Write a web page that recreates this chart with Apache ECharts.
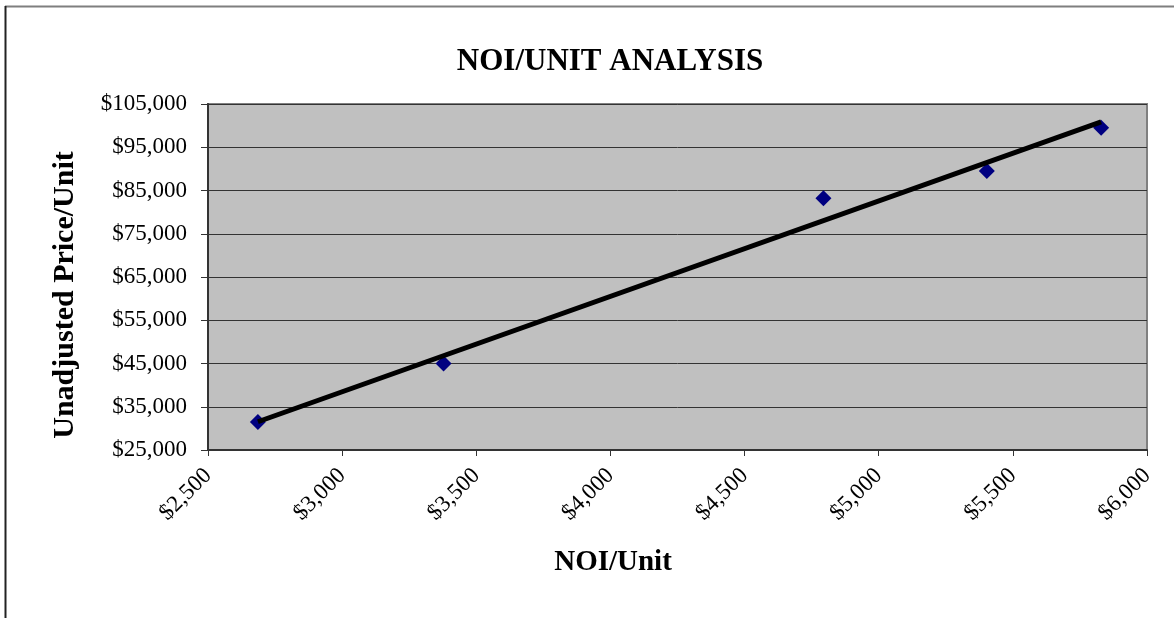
<!DOCTYPE html>
<html>
<head>
<meta charset="utf-8">
<title>NOI/Unit Analysis</title>
<script src="https://cdn.jsdelivr.net/npm/echarts@6/dist/echarts.min.js"></script>
<style>
  html, body { margin: 0; padding: 0; background: #ffffff; }
  #chart { width: 1174px; height: 618px; }
</style>
</head>
<body>
<div id="chart"></div>
<script>
// Comparable properties: NOI per unit vs. unadjusted sale price per unit
const noiPerUnit = [2686, 3378, 4794, 5403, 5829];
const pricePerUnit = [31500, 45000, 83200, 89500, 99500];

// Axis settings
const xMin = 2500, xMax = 6000, xStep = 500;
const yMin = 25000, yMax = 105000, yStep = 10000;

const chartTitle = 'NOI/UNIT ANALYSIS';
const xAxisTitle = 'NOI/Unit';
const yAxisTitle = 'Unadjusted Price/Unit';

// Least-squares linear trendline through the points
function linearFit(xs, ys) {
  const n = xs.length;
  const mx = xs.reduce((a, b) => a + b, 0) / n;
  const my = ys.reduce((a, b) => a + b, 0) / n;
  let sxy = 0, sxx = 0;
  for (let i = 0; i < n; i++) {
    sxy += (xs[i] - mx) * (ys[i] - my);
    sxx += (xs[i] - mx) * (xs[i] - mx);
  }
  const slope = sxy / sxx;
  return { slope, intercept: my - slope * mx };
}
const fit = linearFit(noiPerUnit, pricePerUnit);
const xLo = Math.min(...noiPerUnit), xHi = Math.max(...noiPerUnit);
const trendPoints = [
  [xLo, fit.intercept + fit.slope * xLo],
  [xHi, fit.intercept + fit.slope * xHi]
];

const points = noiPerUnit.map((x, i) => [x, pricePerUnit[i]]);
const money = v => '$' + v.toLocaleString('en-US');
const serif = '"Liberation Serif", "Times New Roman", serif';
const boldTitle = { fontFamily: serif, fontSize: 29, fontWeight: 'bold', fill: '#000' };

const chart = echarts.init(document.getElementById('chart'), null, { renderer: 'canvas' });
chart.setOption({
  backgroundColor: '#ffffff',
  animation: false,
  title: {
    text: chartTitle,
    left: 605,
    top: 41,
    textAlign: 'center',
    textStyle: { fontFamily: serif, fontSize: 31, fontWeight: 'bold', color: '#000' }
  },
  grid: {
    left: 208, right: 27, top: 104, bottom: 168,
    containLabel: false,
    show: true,
    backgroundColor: '#c0c0c0',
    borderColor: '#808080',
    borderWidth: 2
  },
  graphic: [
    // outer chart frame (top and left edges)
    { type: 'line', shape: { x1: 5, y1: 6.5, x2: 1174, y2: 6.5 }, style: { stroke: '#7f7f7f', lineWidth: 2 }, silent: true },
    { type: 'line', shape: { x1: 5.5, y1: 6, x2: 5.5, y2: 618 }, style: { stroke: '#222222', lineWidth: 2 }, silent: true },
    // axis titles
    {
      type: 'text', x: 613, y: 563,
      style: Object.assign({ text: xAxisTitle, align: 'center', verticalAlign: 'middle' }, boldTitle),
      silent: true
    },
    {
      type: 'text', x: 65, y: 295, rotation: Math.PI / 2,
      style: Object.assign({ text: yAxisTitle, align: 'center', verticalAlign: 'middle' }, boldTitle, { fontSize: 30 }),
      silent: true
    }
  ],
  xAxis: {
    type: 'value',
    min: xMin, max: xMax, interval: xStep,
    axisLine: { show: true, lineStyle: { color: '#333', width: 2 } },
    axisTick: { show: true, length: 6, lineStyle: { color: '#333' } },
    splitLine: { show: false },
    axisLabel: {
      rotate: 45, margin: 22,
      fontFamily: serif, fontSize: 23, color: '#000',
      formatter: money
    }
  },
  yAxis: {
    type: 'value',
    min: yMin, max: yMax, interval: yStep,
    axisLine: { show: true, lineStyle: { color: '#333', width: 2 } },
    axisTick: { show: true, length: 7, lineStyle: { color: '#333' } },
    splitLine: { show: true, lineStyle: { color: '#333', width: 1 } },
    axisLabel: {
      margin: 21,
      fontFamily: serif, fontSize: 23, color: '#000',
      formatter: money
    }
  },
  series: [
    {
      name: 'Comparables',
      type: 'scatter',
      data: points,
      symbol: 'diamond',
      symbolSize: 16,
      itemStyle: { color: '#000080', opacity: 1 },
      z: 2
    },
    {
      name: 'Linear trend',
      type: 'line',
      data: trendPoints,
      showSymbol: false,
      lineStyle: { color: '#000', width: 5 },
      z: 3
    }
  ]
});
</script>
</body>
</html>
